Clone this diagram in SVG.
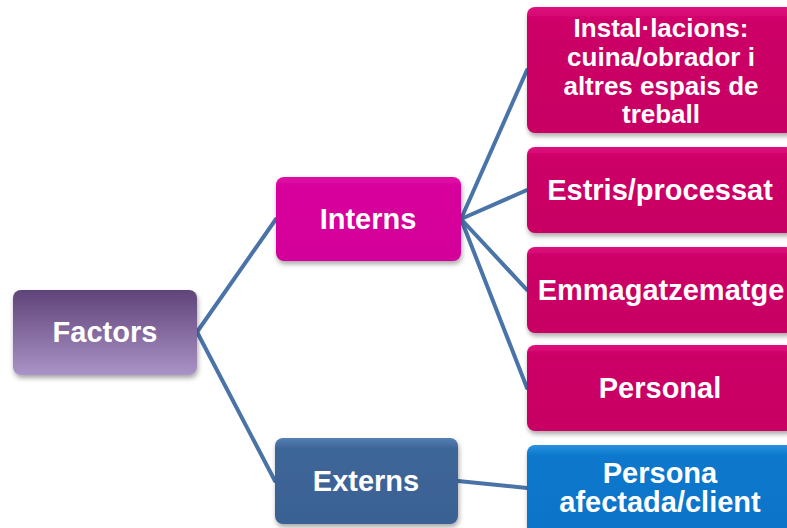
<svg xmlns="http://www.w3.org/2000/svg" width="787" height="528" viewBox="0 0 787 528">
<style>
.lbl{font-family:"Liberation Sans",Arial,sans-serif;font-weight:bold;fill:#fff;text-anchor:middle;font-size:29px}
.sm{font-size:26px}
.conn{stroke:#4a74a8;stroke-width:4;fill:none;stroke-linecap:round}
.box{filter:url(#sh)}
</style>
<defs>
<filter id="sh" x="-10%" y="-10%" width="120%" height="130%">
<feDropShadow dx="1" dy="3" stdDeviation="2.5" flood-color="#000" flood-opacity="0.35"/>
</filter>
<linearGradient id="gP" x1="0" y1="0" x2="0" y2="1">
<stop offset="0" stop-color="#5f4379"/>
<stop offset="1" stop-color="#aa93c6"/>
</linearGradient>
<linearGradient id="gM" x1="0" y1="0" x2="0" y2="1">
<stop offset="0" stop-color="#e010a6"/>
<stop offset="0.12" stop-color="#d8009c"/>
<stop offset="1" stop-color="#d4009a"/>
</linearGradient>
<linearGradient id="gC" x1="0" y1="0" x2="0" y2="1">
<stop offset="0" stop-color="#e01080"/>
<stop offset="0.12" stop-color="#cc0066"/>
<stop offset="1" stop-color="#c80064"/>
</linearGradient>
<linearGradient id="gB" x1="0" y1="0" x2="0" y2="1">
<stop offset="0" stop-color="#5580b4"/>
<stop offset="0.12" stop-color="#3e6698"/>
<stop offset="1" stop-color="#3a6194"/>
</linearGradient>
<linearGradient id="gL" x1="0" y1="0" x2="0" y2="1">
<stop offset="0" stop-color="#2a90e0"/>
<stop offset="0.12" stop-color="#0a78cc"/>
<stop offset="1" stop-color="#0874c8"/>
</linearGradient>
</defs>
<g id="connectors">
<line class="conn" x1="197" y1="332" x2="276" y2="219"/>
<line class="conn" x1="197" y1="332" x2="275" y2="481"/>
<line class="conn" x1="461" y1="219" x2="527" y2="70"/>
<line class="conn" x1="461" y1="219" x2="527" y2="190"/>
<line class="conn" x1="461" y1="219" x2="527" y2="290"/>
<line class="conn" x1="461" y1="219" x2="527" y2="388"/>
<line class="conn" x1="458" y1="481" x2="527" y2="488"/>
</g>
<g id="factors">
<rect class="box" x="13" y="290" width="184" height="85" rx="8" fill="url(#gP)"/>
<text class="lbl" x="105" y="342">Factors</text>
</g>
<g id="interns">
<rect class="box" x="276" y="177" width="185" height="84" rx="8" fill="url(#gM)"/>
<text class="lbl" x="368" y="229">Interns</text>
</g>
<g id="externs">
<rect class="box" x="275" y="438" width="183" height="86" rx="8" fill="url(#gB)"/>
<text class="lbl" x="366" y="491">Externs</text>
</g>
<g id="installacions">
<rect class="box" x="527" y="7" width="267" height="126" rx="8" fill="url(#gC)"/>
<text class="lbl sm" x="661" y="37">Instal·lacions:</text>
<text class="lbl sm" x="661" y="66">cuina/obrador i</text>
<text class="lbl sm" x="661" y="95">altres espais de</text>
<text class="lbl sm" x="661" y="123">treball</text>
</g>
<g id="estris">
<rect class="box" x="527" y="147" width="267" height="86" rx="8" fill="url(#gC)"/>
<text class="lbl" x="660" y="200">Estris/processat</text>
</g>
<g id="emmagatzematge">
<rect class="box" x="527" y="247" width="267" height="86" rx="8" fill="url(#gC)"/>
<text class="lbl" x="661" y="300">Emmagatzematge</text>
</g>
<g id="personal">
<rect class="box" x="527" y="345" width="267" height="86" rx="8" fill="url(#gC)"/>
<text class="lbl" x="660" y="398">Personal</text>
</g>
<g id="persona">
<rect class="box" x="527" y="445" width="267" height="90" rx="8" fill="url(#gL)"/>
<text class="lbl" x="660" y="483">Persona</text>
<text class="lbl" x="660" y="512">afectada/client</text>
</g>
</svg>
